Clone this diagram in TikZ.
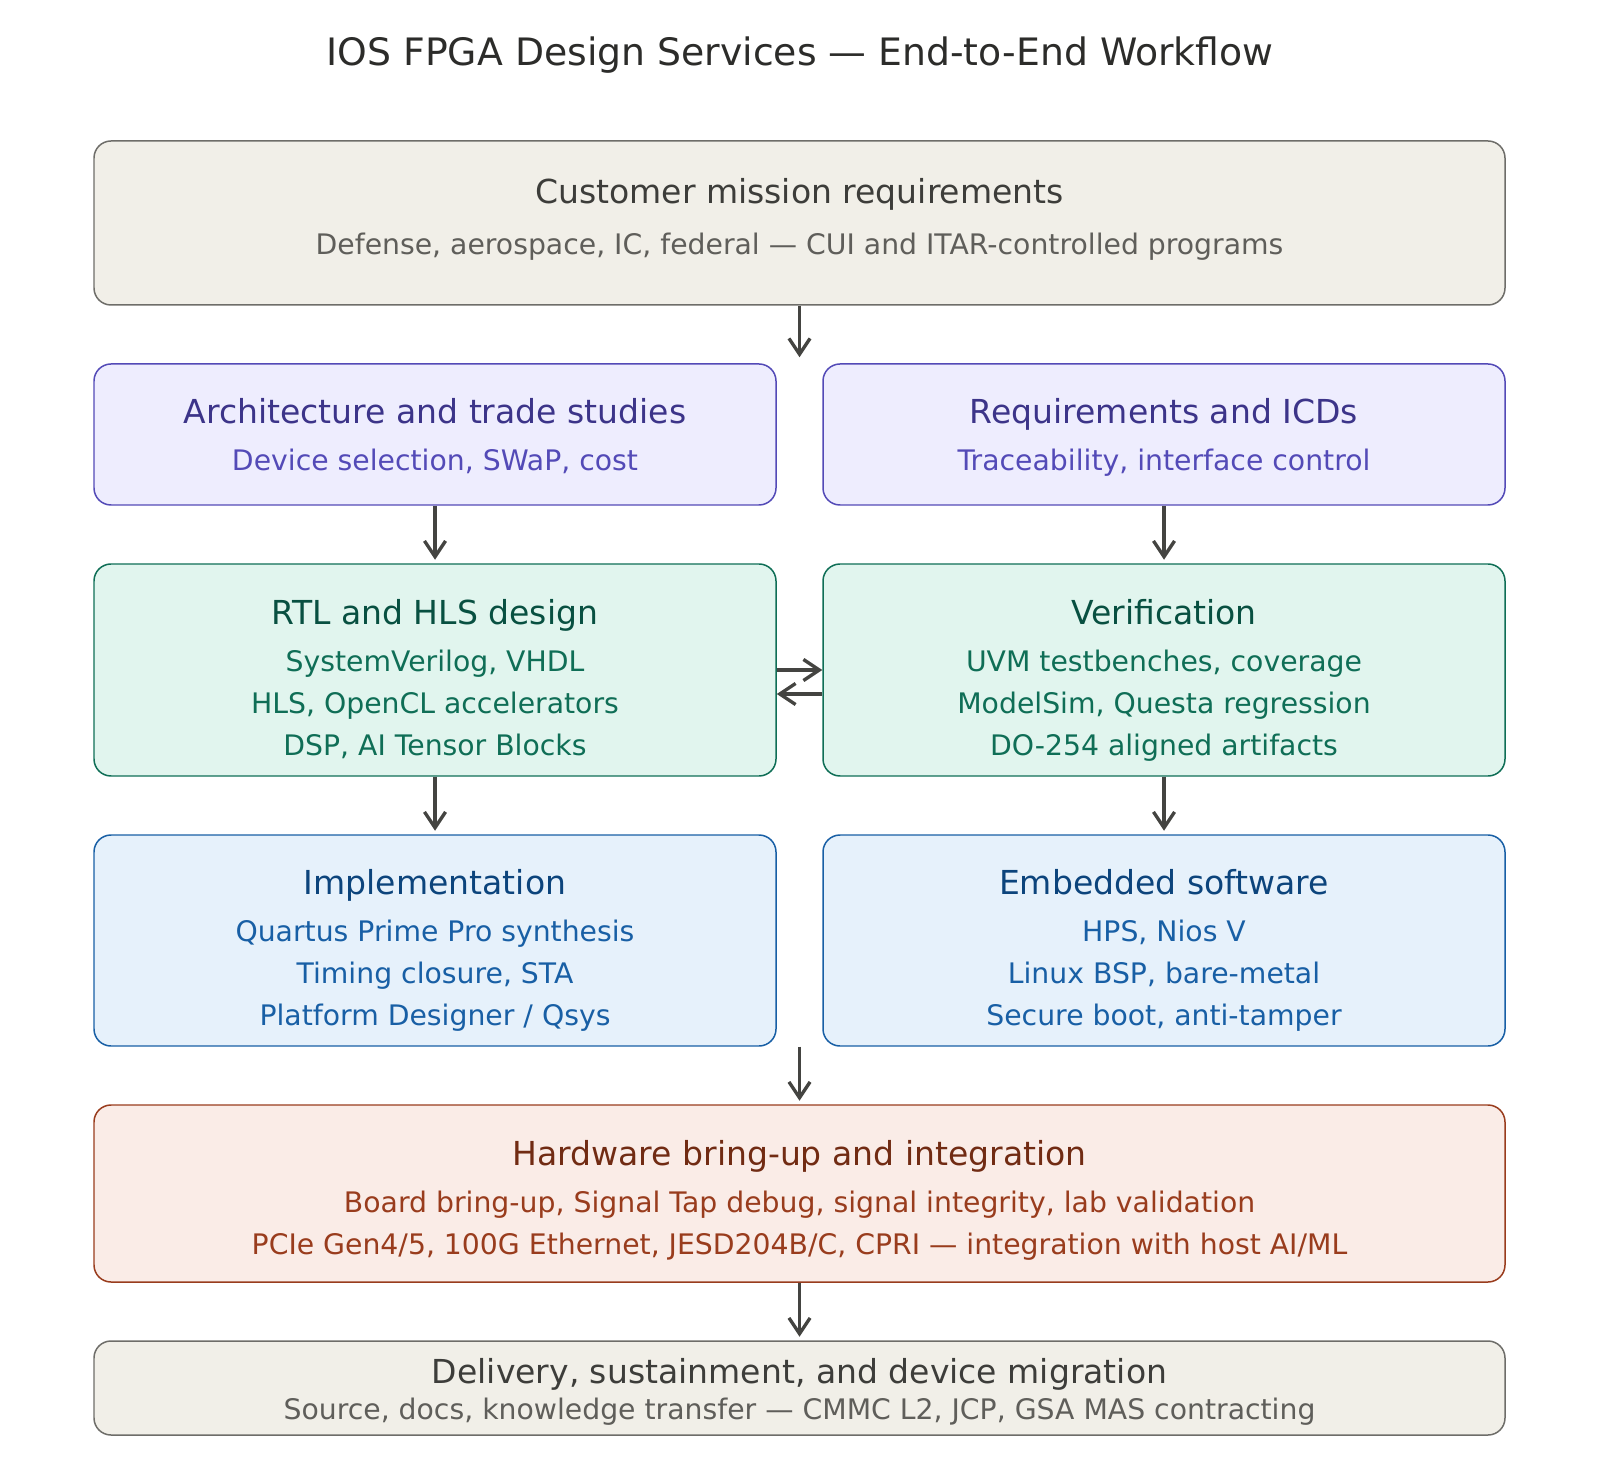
\documentclass[tikz,border=0pt]{standalone}
\usepackage{fontspec}
\setmainfont{DejaVu Sans}
\usetikzlibrary{arrows.meta,positioning,fit,calc}
\definecolor{sandfill}{HTML}{F1EFE8}
\definecolor{sandline}{HTML}{6E6D69}
\definecolor{sandhead}{HTML}{3D3D3A}
\definecolor{sandsub}{HTML}{5F5E5A}
\definecolor{violetfill}{HTML}{EEEDFE}
\definecolor{violetline}{HTML}{534AB7}
\definecolor{violethead}{HTML}{3C3489}
\definecolor{violetsub}{HTML}{534AB7}
\definecolor{tealfill}{HTML}{E1F5EE}
\definecolor{tealline}{HTML}{0F6E56}
\definecolor{tealhead}{HTML}{085041}
\definecolor{tealsub}{HTML}{0F6E56}
\definecolor{bluefill}{HTML}{E6F1FB}
\definecolor{blueline}{HTML}{185FA5}
\definecolor{bluehead}{HTML}{0C447C}
\definecolor{bluesub}{HTML}{185FA5}
\definecolor{coralfill}{HTML}{FAECE7}
\definecolor{coralline}{HTML}{993C1D}
\definecolor{coralhead}{HTML}{712B13}
\definecolor{coralsub}{HTML}{993C1D}
\definecolor{arrowgray}{HTML}{444441}
\definecolor{titlegray}{HTML}{2C2C2A}
\tikzset{
  stagebox/.style={
    rectangle, rounded corners=0.34cm,
    draw=#1line, fill=#1fill, line width=0.85pt,
    inner sep=0pt
  },
  stagehead/.style={
    anchor=base, text=#1head,
    font=\fontsize{18.8}{22}\selectfont
  },
  % base of a multi-line node = baseline of its last line
  stagesub/.style={
    anchor=base, text=#1sub, align=center,
    font=\fontsize{16.1}{23.8}\selectfont
  },
  flow/.style={
    -{Straight Barb[length=9pt,width=12pt]}, line width=1.9pt,
    draw=arrowgray, shorten >=0.07cm
  },
}

\begin{document}
\begin{tikzpicture}[x=0.02cm, y=-0.02cm]
\useasboundingbox (0,0) rectangle (1600,1459);

\node[text=titlegray, font=\fontsize{21.5}{26}\selectfont] (title) at (800,55)
  {IOS FPGA Design Services — End-to-End Workflow};

% stage boxes
\node[stagebox=sand, fit={(94,141) (1505,305)}] (mission) {};
\node[stagebox=violet, fit={(94,364) (776,505)}] (arch) {};
\node[stagebox=violet, fit={(823,364) (1505,505)}] (reqs) {};
\node[stagebox=teal, fit={(94,564) (776,776)}] (rtl) {};
\node[stagebox=teal, fit={(823,564) (1505,776)}] (verif) {};
\node[stagebox=blue, fit={(94,835) (776,1046)}] (impl) {};
\node[stagebox=blue, fit={(823,835) (1505,1046)}] (embsw) {};
\node[stagebox=coral, fit={(94,1105) (1505,1282)}] (bringup) {};
\node[stagebox=sand, fit={(94,1341) (1505,1435)}] (delivery) {};

% texts
\node[stagehead=sand] (missionhead) at ($(mission.north)+(0,63)$) {Customer mission requirements};
\node[stagesub=sand] (missionsub) at ($(mission.north)+(0,114)$)
  {Defense, aerospace, IC, federal — CUI and ITAR-controlled programs};

\node[stagehead=violet] (archhead) at ($(arch.north)+(0,60)$) {Architecture and trade studies};
\node[stagesub=violet] (archsub) at ($(arch.north)+(0,107)$) {Device selection, SWaP, cost};
\node[stagehead=violet] (reqshead) at ($(reqs.north)+(0,60)$) {Requirements and ICDs};
\node[stagesub=violet] (reqssub) at ($(reqs.north)+(0,107)$) {Traceability, interface control};

\node[stagehead=teal] (rtlhead) at ($(rtl.north)+(0,61)$) {RTL and HLS design};
\node[stagesub=teal] (rtlsub) at ($(rtl.north)+(0,192)$)
  {SystemVerilog, VHDL\\HLS, OpenCL accelerators\\DSP, AI Tensor Blocks};
\node[stagehead=teal] (verifhead) at ($(verif.north)+(0,61)$) {Verification};
\node[stagesub=teal] (verifsub) at ($(verif.north)+(0,192)$)
  {UVM testbenches, coverage\\ModelSim, Questa regression\\DO-254 aligned artifacts};

\node[stagehead=blue] (implhead) at ($(impl.north)+(0,60)$) {Implementation};
\node[stagesub=blue] (implsub) at ($(impl.north)+(0,191)$)
  {Quartus Prime Pro synthesis\\Timing closure, STA\\Platform Designer / Qsys};
\node[stagehead=blue] (embswhead) at ($(embsw.north)+(0,60)$) {Embedded software};
\node[stagesub=blue] (embswsub) at ($(embsw.north)+(0,191)$)
  {HPS, Nios V\\Linux BSP, bare-metal\\Secure boot, anti-tamper};

\node[stagehead=coral] (bringuphead) at ($(bringup.north)+(0,61)$) {Hardware bring-up and integration};
\node[stagesub=coral] (bringupsub) at ($(bringup.north)+(0,150)$)
  {Board bring-up, Signal Tap debug, signal integrity, lab validation\\PCIe Gen4/5, 100G Ethernet, JESD204B/C, CPRI — integration with host AI/ML};

\node[stagehead=sand] (deliveryhead) at ($(delivery.north)+(0,43)$) {Delivery, sustainment, and device migration};
\node[stagesub=sand] (deliverysub) at ($(delivery.north)+(0,79)$)
  {Source, docs, knowledge transfer — CMMC L2, JCP, GSA MAS contracting};

% connectors
\draw[flow, shorten >=0.12cm] (mission.south) -- (mission.south |- arch.north);
\draw[flow] (arch.south) -- (rtl.north);
\draw[flow] (reqs.south) -- (verif.north);
\draw[flow, shorten >=0pt] (rtl.east) -- (verif.west);
\draw[flow, shorten >=0pt] ($(verif.west)+(0,24)$) -- ($(rtl.east)+(0,24)$);
\draw[flow] (rtl.south) -- (impl.north);
\draw[flow] (verif.south) -- (embsw.north);
\draw[flow] ($(impl.south east)!0.5!(embsw.south west)$) -- (bringup.north);
\draw[flow] (bringup.south) -- (delivery.north);
\end{tikzpicture}
\end{document}
